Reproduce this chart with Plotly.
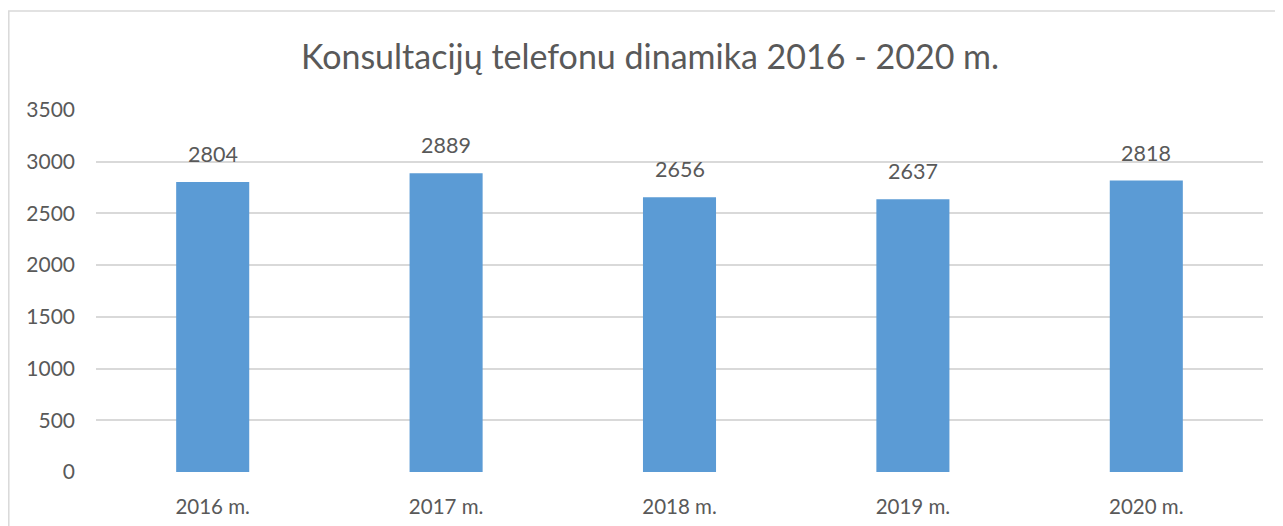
import plotly.graph_objects as go

categories = ["2016 m.", "2017 m.", "2018 m.", "2019 m.", "2020 m."]
values = [2804, 2889, 2656, 2637, 2818]
y_ticks = [0, 500, 1000, 1500, 2000, 2500, 3000, 3500]
title_text = "Konsultacijų telefonu dinamika 2016 - 2020 m."

# page has an 8px body margin, so the figure is laid out in its own coords
W, H = 1275, 518
ML, MR, MT, MB = 88, 20, 102, 54
PW, PH = W - ML - MR, H - MT - MB

FONT = "Lato"
TXT = "#595959"

fig = go.Figure()
fig.add_trace(go.Bar(
    x=categories, y=values,
    marker=dict(color="#5B9BD5", line=dict(width=0)),
    width=0.313,
    hoverinfo="x+y",
))

for c, v in zip(categories, values):
    fig.add_annotation(x=c, y=v, text=str(v), showarrow=False,
                       yanchor="bottom", yshift=13,
                       font=dict(family=FONT, size=21.5, color=TXT))

fig.add_shape(type="rect", xref="paper", yref="paper",
              x0=(0.8 - ML) / PW, x1=1.2, y0=-0.5, y1=(MT + PH - 3) / PH,
              line=dict(color="#D9D9D9", width=1.5), layer="below")

fig.update_layout(
    width=W, height=H,
    margin=dict(l=ML, r=MR, t=MT, b=MB, autoexpand=False),
    paper_bgcolor="white", plot_bgcolor="white",
    showlegend=False,
    title=dict(text=title_text, x=(642 - ML) / PW, xref="paper",
               xanchor="center", y=1 - 49 / H, yanchor="middle",
               font=dict(family=FONT, size=34, color=TXT)),
    xaxis=dict(type="category", showgrid=False, showline=False, zeroline=False,
               tickfont=dict(family=FONT, size=20.5, color=TXT),
               ticks="", ticklabelstandoff=20, automargin=False),
    yaxis=dict(range=[0, 3500], tickvals=y_ticks, showgrid=True,
               gridcolor="#D9D9D9", gridwidth=1.5, zeroline=False,
               showline=False, ticks="",
               tickfont=dict(family=FONT, size=21, color=TXT),
               ticklabelstandoff=20, automargin=False),
)

fig.write_html("out.html")
